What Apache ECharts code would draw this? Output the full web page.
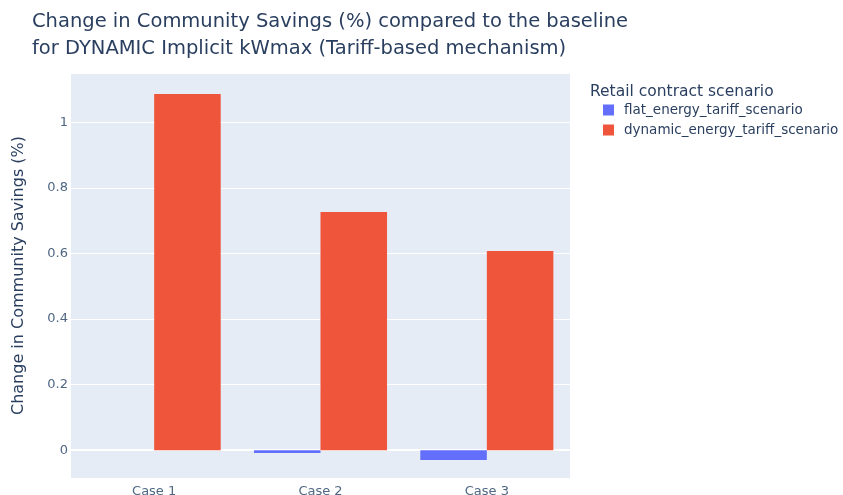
<!DOCTYPE html>
<html>
<head>
<meta charset="utf-8">
<script src="https://cdn.jsdelivr.net/npm/echarts@6/dist/echarts.min.js"></script>
<style>
  html, body { margin: 0; padding: 0; background: #fff; }
  #chart { width: 843px; height: 495px; }
</style>
</head>
<body>
<div id="chart"></div>
<script>
var categories = ['Case 1', 'Case 2', 'Case 3'];
var seriesNames = ['flat_energy_tariff_scenario', 'dynamic_energy_tariff_scenario'];
var flatValues = [0, -0.009, -0.03];
var dynamicValues = [1.087, 0.727, 0.608];

var textColor = '#2a3f5f';
var fontName = 'DejaVu Sans';

var myChart = echarts.init(document.getElementById('chart'));

myChart.setOption({
    backgroundColor: '#fff',
    title: [
        {
            text: 'Change in Community Savings (%) compared to the baseline\nfor DYNAMIC Implicit kWmax (Tariff-based mechanism)',
            left: 27,
            top: 3,
            textStyle: { fontFamily: fontName, fontSize: 19.5, fontWeight: 'normal', color: textColor, lineHeight: 27 }
        },
        {
            text: 'Retail contract scenario',
            left: 585,
            top: 79,
            textStyle: { fontFamily: fontName, fontSize: 15.5, fontWeight: 'normal', color: textColor }
        }
    ],
    legend: {
        orient: 'vertical',
        left: 598,
        top: 98,
        icon: 'rect',
        itemWidth: 11,
        itemHeight: 11,
        itemGap: 6,
        data: seriesNames,
        textStyle: { fontFamily: fontName, fontSize: 13.5, color: textColor, padding: [0, 0, 0, 5] }
    },
    grid: {
        left: 71,
        right: 273,
        top: 73,
        bottom: 17,
        outerBoundsMode: 'none',
        show: true,
        backgroundColor: '#E5ECF6',
        borderWidth: 0
    },
    xAxis: {
        type: 'category',
        data: categories,
        axisLine: { show: false },
        axisTick: { show: false },
        splitLine: { show: false },
        axisLabel: { fontFamily: fontName, fontSize: 13, color: '#506784', margin: 7 }
    },
    yAxis: {
        type: 'value',
        min: -0.085,
        max: 1.151,
        splitNumber: 6,
        name: 'Change in Community Savings (%)',
        nameLocation: 'middle',
        nameGap: 44,
        nameTextStyle: { fontFamily: fontName, fontSize: 16, color: textColor },
        axisLine: { show: false },
        axisTick: { show: false },
        splitLine: { lineStyle: { color: '#fff', width: 1 } },
        axisLabel: {
            fontFamily: fontName, fontSize: 13, color: '#506784', margin: 3,
            showMinLabel: false, showMaxLabel: false,
            formatter: function (v) { return Math.round(v * 10) / 10 + ''; }
        }
    },
    series: [
        {
            name: seriesNames[0],
            type: 'bar',
            data: flatValues,
            barGap: '0%',
            barCategoryGap: '20%',
            itemStyle: { color: '#636EFA' },
            markLine: {
                silent: true,
                symbol: 'none',
                label: { show: false },
                lineStyle: { color: '#fff', width: 2, type: 'solid' },
                data: [{ yAxis: 0 }],
                z: 1
            }
        },
        {
            name: seriesNames[1],
            type: 'bar',
            data: dynamicValues,
            barGap: '0%',
            barCategoryGap: '20%',
            itemStyle: { color: '#EF553B' }
        }
    ]
}, true);
</script>
</body>
</html>
